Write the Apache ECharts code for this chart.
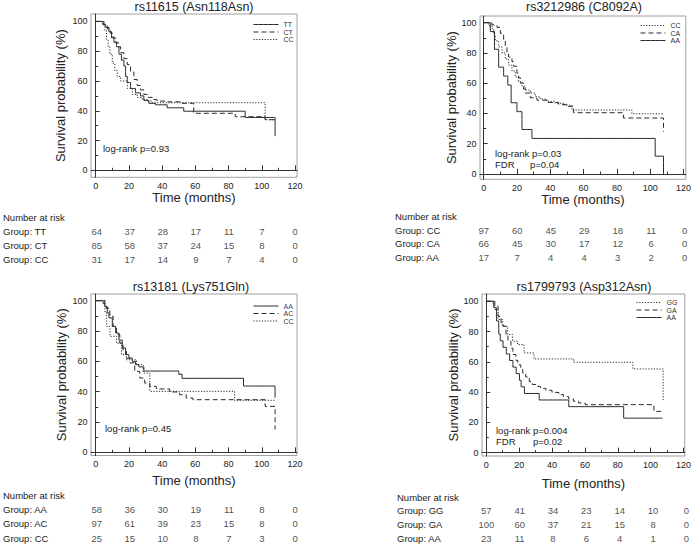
<!DOCTYPE html>
<html><head><meta charset="utf-8">
<script src="https://cdn.jsdelivr.net/npm/echarts@6/dist/echarts.min.js"></script>
<style>html,body{margin:0;padding:0;background:#fff}#c{width:694px;height:546px}</style>
</head><body><div id="c"></div><script>
// ---------- axis ticks ----------
const TIME_TICKS = [0, 20, 40, 60, 80, 100, 120];
const TIME_MINOR = [10, 30, 50, 70, 90, 110];
const SURV_TICKS = [0, 20, 40, 60, 80, 100];
const SURV_MINOR = [10, 30, 50, 70, 90];
const RISK_TIMES = [0, 20, 40, 60, 80, 100, 120];

// ---------- Panel 1: rs11615 (Asn118Asn) ----------
const P1_TT = [[0,100],[4.5,97.7],[6,96],[8,93],[9.5,89],[11,86],[12.5,83],[14,78],[15.5,74],[17,70],[18,63],[19,59],[21,55],[24,52],[27,50],[29,47],[32,45],[36,44],[43,42],[53,39.7],[90,35.5],[108,23]];
const P1_CT = [[0,100],[5,98],[7,95],[9,92],[10.5,89],[12,86],[13.5,83],[15,79],[17,75],[19,71],[21,66],[23,61],[25,57],[27,54],[29,51],[31,49],[34,47.5],[37,46.5],[43,46],[51,45],[59,38.3],[84,36],[102,34],[108,34]];
const P1_CC = [[0,100],[4,98],[5.5,94],[6.5,88],[7.5,83],[8.5,78],[10,72],[11.5,67],[13,63],[15,60],[19,55],[22,51],[25,49],[28,47.5],[31,46.5],[34,45.4],[102,34],[108,34]];
const RISK_P1_TT = [64, 37, 28, 17, 11, 7, 0];
const RISK_P1_CT = [85, 58, 37, 24, 15, 8, 0];
const RISK_P1_CC = [31, 17, 14, 9, 7, 4, 0];

// ---------- Panel 2: rs3212986 (C8092A) ----------
const P2_CC = [[0,100],[3,98],[5,96],[6,92],[7,88],[9,84],[11,80],[13,76],[15,72],[17,68],[19,64],[21,61],[23,58],[25,55.5],[28,53.5],[31,51],[34,49.5],[38,48],[43,46.8],[48,45.5],[53,42.3],[89,39.8],[108,39.8]];
const P2_CA = [[0,100],[5,98.5],[8,96.9],[10,93],[12,87.9],[13,84.8],[14,80.3],[15,77.3],[17,74.2],[18,71.2],[20,66.7],[21,63.6],[22,60.1],[24,56.1],[25,53.5],[28,50.4],[32,48.8],[38,47.3],[45,46],[50,44.7],[54,40.5],[84,37],[108,28]];
const P2_AA = [[0,100],[4,94.1],[6.5,82.4],[9,70.6],[12,64.7],[14.5,58.8],[16.5,47.1],[20,41.2],[23,29.4],[29,23.5],[103,11.8],[108,0]];
const RISK_P2_CC = [97, 60, 45, 29, 18, 11, 0];
const RISK_P2_CA = [66, 45, 30, 17, 12, 6, 0];
const RISK_P2_AA = [17, 7, 4, 4, 3, 2, 0];

// ---------- Panel 3: rs13181 (Lys751Gln) ----------
const P3_AA = [[0,100],[4.5,98],[5.5,96],[7,92],[8,88.6],[10,83],[12,78.7],[14,74],[16,68.8],[18,64.4],[20,62.2],[22,60],[24,57.8],[26,56.3],[29,53.6],[50,51.5],[52,48.8],[89,43.7],[108,36]];
const P3_AC = [[0,100],[5.5,97],[6.5,95],[8.5,89.7],[10.5,83],[12.5,77.6],[14.5,72],[16.5,66.6],[18.5,62],[20.5,59],[23.5,53.4],[26.5,49],[29.5,45.7],[32.5,43.5],[36.5,41.8],[44.5,39.8],[50.5,38],[54.5,35.8],[58.5,34.7],[102,30.3],[108,15]];
const P3_CC = [[0,100],[5.6,92],[6.6,83],[8.6,76.5],[12.6,72],[15.6,64.4],[18.6,61],[24.6,57.8],[28.6,52.3],[32.6,40.2],[83.6,34.3],[108,34.3]];
const RISK_P3_AA = [58, 36, 30, 19, 11, 8, 0];
const RISK_P3_AC = [97, 61, 39, 23, 15, 8, 0];
const RISK_P3_CC = [25, 15, 10, 8, 7, 3, 0];

// ---------- Panel 4: rs1799793 (Asp312Asn) ----------
const P4_GG = [[0,100],[4.2,97],[5.2,94.5],[7.2,88],[10,83.5],[13,78],[16,73.6],[19,71.4],[23,65.9],[29,61.9],[53.2,59.7],[89.2,55.3],[107.6,34]];
const P4_GA = [[0,100],[5.2,96.7],[7.2,90],[9,86],[10.2,83.5],[12,78],[13.2,73.6],[15,69],[16.2,64.8],[18,61],[19.2,58],[21,55],[22.2,52.6],[24,50],[26.2,47],[28,45],[30.2,43.8],[33,42.5],[36.2,41.2],[40,39.8],[44.2,38.3],[47,37],[50.2,35.5],[53,34],[56.2,32.8],[60.2,31.7],[102,27.3],[107.6,27.3]];
const P4_AA = [[0,100],[4.6,95.7],[6.2,87],[7.6,78.3],[8.5,73.9],[10.2,69.6],[12.2,65.2],[14.2,60.9],[16.2,56.5],[18.2,52.2],[20.2,47.8],[21.2,43.5],[23.2,39.1],[32.2,34.8],[50.2,30.4],[83.6,22.8],[107.2,22.8]];
const RISK_P4_GG = [57, 41, 34, 23, 14, 10, 0];
const RISK_P4_GA = [100, 60, 37, 21, 15, 8, 0];
const RISK_P4_AA = [23, 11, 8, 6, 4, 1, 0];

// ---------- styles ----------
const FONT = 'Liberation Sans, Arial, sans-serif';
const INK = '#222';
const LINE_COLOR = '#2a2a2a';
const STYLE = {
  solid:  [5, 0],
  dashed: [5, 3],
  dotted: [1.2, 1.6]
};

const panels = [
  { title: 'rs11615 (Asn118Asn)', titleX: 194, titleY: 0,
    grid: [91, 14, 206, 163.3], x: [-2.83, 121.2], y: [-4.7, 105.0], xGap: 19.4, yGap: 31,
    curves: [['TT', P1_TT, 'solid'], ['CT', P1_CT, 'dashed'], ['CC', P1_CC, 'dotted']],
    legendPos: [253, 21], legendColors: {},
    table: { top: 210, height: 56, labelX: 2, rows: [['Group: TT', RISK_P1_TT], ['Group: CT', RISK_P1_CT], ['Group: CC', RISK_P1_CC]] },
    notes: [['log-rank p=0.93', 103, 148.3]] },
  { title: 'rs3212986 (C8092A)', titleX: 584, titleY: 0,
    grid: [480, 16, 207, 163.3], x: [-2.2, 121.4], y: [-3.5, 104.4], xGap: 18, yGap: 26,
    curves: [['CC', P2_CC, 'dotted'], ['CA', P2_CA, 'dashed'], ['AA', P2_AA, 'solid']],
    legendPos: [640, 22], legendColors: {},
    table: { top: 209.75, height: 54, labelX: 395, rows: [['Group: CC', RISK_P2_CC], ['Group: CA', RISK_P2_CA], ['Group: AA', RISK_P2_AA]] },
    notes: [['log-rank p=0.03', 495, 153.3], ['FDR', 495, 164.5], ['p=0.04', 530, 164.5]] },
  { title: 'rs13181 (Lys751Gln)', titleX: 191, titleY: 280,
    grid: [91, 294, 206, 161.5], x: [-2.83, 121.2], y: [-2.1, 104.4], xGap: 24.5, yGap: 29.3,
    curves: [['AA', P3_AA, 'solid'], ['AC', P3_AC, 'dashed'], ['CC', P3_CC, 'dotted']],
    legendPos: [253, 302.5], legendColors: { AA: '#3a3a9a' },
    table: { top: 487.8, height: 57.6, labelX: 2, rows: [['Group: AA', RISK_P3_AA], ['Group: AC', RISK_P3_AC], ['Group: CC', RISK_P3_CC]] },
    notes: [['log-rank p=0.45', 105, 428.3]] },
  { title: 'rs1799793 (Asp312Asn)', titleX: 584, titleY: 280,
    grid: [482, 294, 205.7, 162], x: [-2.6, 120.8], y: [-2.2, 104.8], xGap: 27.3, yGap: 29,
    curves: [['GG', P4_GG, 'dotted'], ['GA', P4_GA, 'dashed'], ['AA', P4_AA, 'solid']],
    legendPos: [636, 299], legendColors: {},
    table: { top: 490.1, height: 55.2, labelX: 397, rows: [['Group: GG', RISK_P4_GG], ['Group: GA', RISK_P4_GA], ['Group: AA', RISK_P4_AA]] },
    notes: [['log-rank p=0.004', 496, 430], ['FDR', 496, 441.2], ['p=0.02', 533, 441.2]] }
];

const option = { animation: false, backgroundColor: '#fff', textStyle: { fontFamily: FONT },
  title: [], grid: [], xAxis: [], yAxis: [], series: [], legend: [], graphic: [] };

function minorAxis(gi, mm, vals, pos) {
  return { type: 'value', gridIndex: gi, min: mm[0], max: mm[1], position: pos,
    axisLine: { show: false }, axisLabel: { show: false }, splitLine: { show: false },
    axisTick: { show: true, inside: true, length: 2.5, customValues: vals, lineStyle: { color: '#333' } } };
}

panels.forEach((p) => {
  option.title.push({ text: p.title, left: p.titleX, top: p.titleY, textAlign: 'center', padding: 0,
    textStyle: { fontSize: 12.5, fontWeight: 'normal', color: INK, fontFamily: FONT } });

  // plot grid
  const gi = option.grid.length;
  option.grid.push({ left: p.grid[0], top: p.grid[1], width: p.grid[2], height: p.grid[3],
    show: true, borderColor: '#a0a0a0', borderWidth: 1 });
  const xi = option.xAxis.length;
  option.xAxis.push({ type: 'value', gridIndex: gi, min: p.x[0], max: p.x[1], position: 'bottom',
    name: 'Time (months)', nameLocation: 'middle', nameGap: p.xGap,
    nameTextStyle: { fontSize: 13, color: INK, fontFamily: FONT, verticalAlign: 'middle' },
    axisLine: { show: true, lineStyle: { color: '#333', width: 1 } },
    axisTick: { show: true, inside: true, length: 5, customValues: TIME_TICKS, lineStyle: { color: '#333' } },
    axisLabel: { customValues: TIME_TICKS, fontSize: 9, color: INK, margin: 4, fontFamily: FONT },
    splitLine: { show: false } });
  option.xAxis.push(minorAxis(gi, p.x, TIME_MINOR, 'bottom'));
  const yi = option.yAxis.length;
  option.yAxis.push({ type: 'value', gridIndex: gi, min: p.y[0], max: p.y[1], position: 'left',
    name: 'Survival probability (%)', nameLocation: 'middle', nameGap: p.yGap, nameRotate: 90,
    nameTextStyle: { fontSize: 13, color: INK, fontFamily: FONT, verticalAlign: 'middle' },
    axisLine: { show: true, lineStyle: { color: '#333', width: 1 } },
    axisTick: { show: true, inside: true, length: 4, customValues: SURV_TICKS, lineStyle: { color: '#333' } },
    axisLabel: { customValues: SURV_TICKS, fontSize: 9, color: INK, margin: 3.5, fontFamily: FONT },
    splitLine: { show: false } });
  option.yAxis.push(minorAxis(gi, p.y, SURV_MINOR, 'left'));

  p.curves.forEach(([name, data, st]) => {
    option.series.push({ type: 'line', name, xAxisIndex: xi, yAxisIndex: yi, data, step: 'end',
      symbol: 'none', silent: true, z: 3, color: LINE_COLOR,
      itemStyle: { color: LINE_COLOR },
      lineStyle: { width: 1, color: LINE_COLOR, type: STYLE[st] } });
  });

  option.legend.push({ left: p.legendPos[0], top: p.legendPos[1], orient: 'vertical', padding: 0,
    itemWidth: 25, itemHeight: 8, itemGap: 0.5, selectedMode: false,
    itemStyle: { opacity: 0, borderWidth: 0 },
    lineStyle: { width: 1 },
    textStyle: { fontSize: 7, color: '#333', fontFamily: FONT },
    data: p.curves.map(c => p.legendColors[c[0]] ? { name: c[0], textStyle: { color: p.legendColors[c[0]] } } : c[0]) });

  // number at risk table
  const tg = option.grid.length;
  option.grid.push({ left: p.grid[0], top: p.table.top, width: p.grid[2], height: p.table.height });
  const txi = option.xAxis.length;
  option.xAxis.push({ type: 'value', gridIndex: tg, min: p.x[0], max: p.x[1], show: false });
  const tyi = option.yAxis.length;
  const cats = ['Number at risk'].concat(p.table.rows.map(r => r[0]));
  option.yAxis.push({ type: 'category', gridIndex: tg, data: cats, inverse: true,
    axisLine: { show: false }, axisTick: { show: false }, splitLine: { show: false },
    axisLabel: { align: 'left', margin: p.grid[0] - p.table.labelX, fontSize: 9.5, color: INK, fontFamily: FONT } });
  p.table.rows.forEach(([label, vals]) => {
    option.series.push({ type: 'scatter', name: 'risk ' + label, xAxisIndex: txi, yAxisIndex: tyi,
      symbolSize: 1, itemStyle: { color: 'rgba(0,0,0,0)' }, silent: true,
      data: RISK_TIMES.map((t, i) => [t, label, vals[i]]),
      label: { show: true, position: 'inside', formatter: (d) => String(d.value[2]),
        fontSize: 9.5, color: INK, fontFamily: FONT } });
  });

  p.notes.forEach(([text, x, y]) => {
    option.graphic.push({ type: 'text', x, y, silent: true,
      style: { text, fontSize: 9.5, fontFamily: FONT, fill: INK, align: 'left', verticalAlign: 'middle' } });
  });
});

const chart = echarts.init(document.getElementById('c'), null, { renderer: 'svg', width: 694, height: 546 });
chart.setOption(option);
</script></body></html>
